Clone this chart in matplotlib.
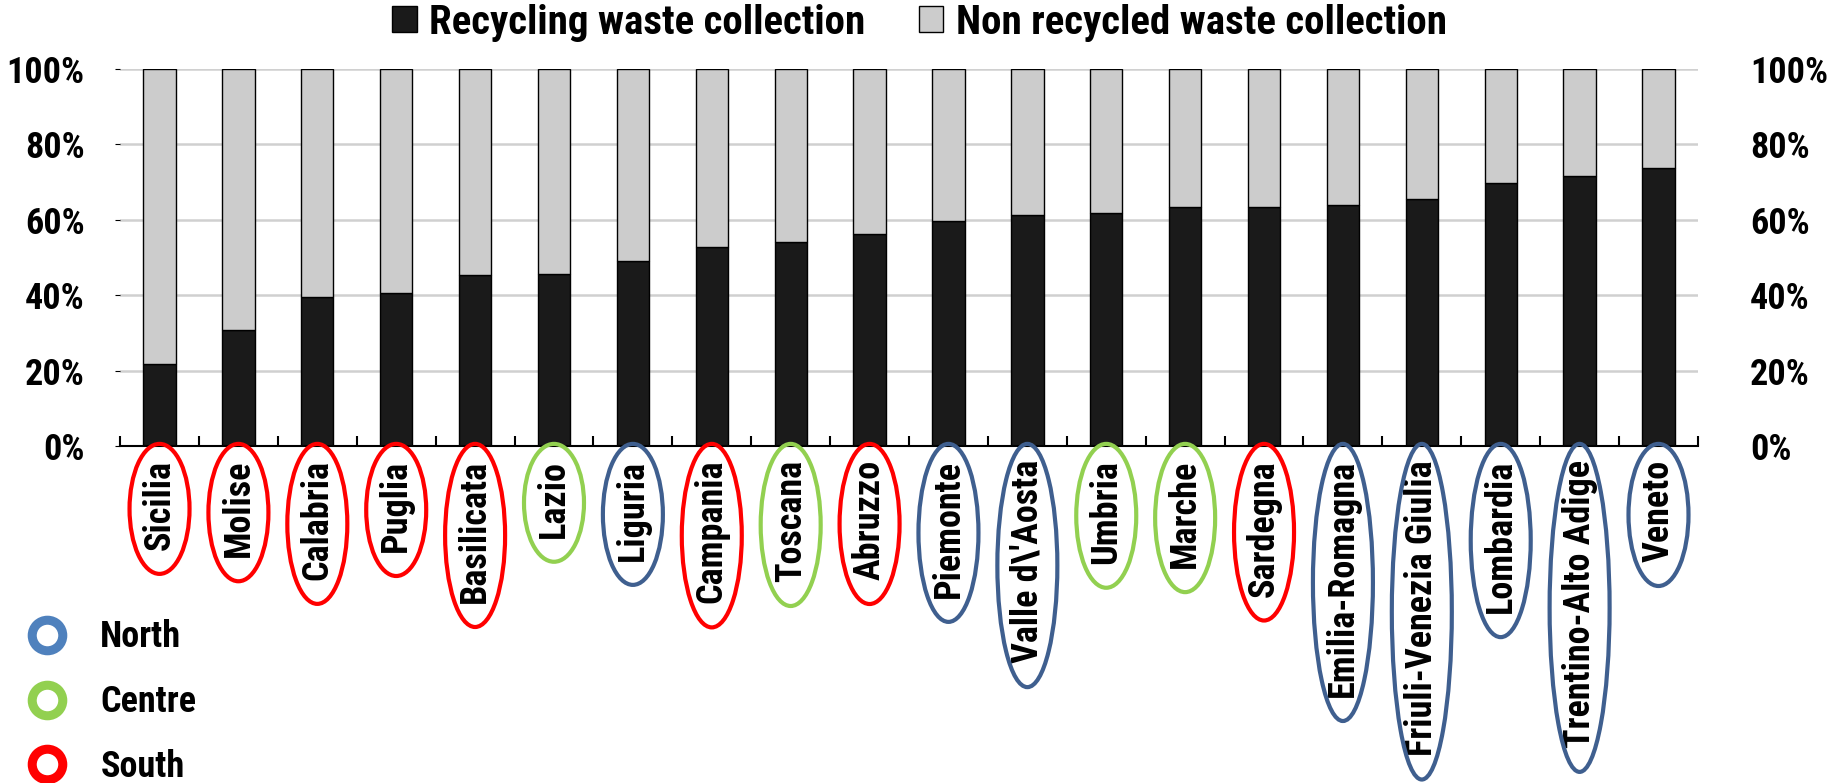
import matplotlib
matplotlib.use("Agg")
import matplotlib.pyplot as plt
from matplotlib.patches import Ellipse, Patch
from matplotlib.lines import Line2D

# =========================
# DATA
# =========================

regions = ["Sicilia", "Molise", "Calabria", "Puglia", "Basilicata", "Lazio",
           "Liguria", "Campania", "Toscana", "Abruzzo", "Piemonte",
           "Valle d\\'Aosta", "Umbria", "Marche", "Sardegna", "Emilia-Romagna",
           "Friuli-Venezia Giulia", "Lombardia", "Trentino-Alto Adige", "Veneto"]

area = ["South", "South", "South", "South", "South", "Centre",
        "North", "South", "Centre", "South", "North",
        "North", "Centre", "Centre", "South", "North",
        "North", "North", "North", "North"]

recycling = [21.7, 30.7, 39.6, 40.5, 45.3, 45.6, 49.1, 52.8, 54.2, 56.2,
             59.6, 61.3, 61.8, 63.3, 63.5, 63.9, 65.6, 69.8, 71.7, 73.8]
non_recycled = [78.3, 69.3, 60.4, 59.5, 54.7, 54.4, 50.9, 47.2, 45.8, 43.8,
                40.4, 38.7, 38.2, 36.7, 36.5, 36.1, 34.4, 30.2, 28.3, 26.2]

y_ticks = [0, 20, 40, 60, 80, 100]
y_labels = ["0%", "20%", "40%", "60%", "80%", "100%"]

area_order = ["North", "Centre", "South"]

# =========================
# STYLE
# =========================

FONT = ["Roboto Condensed", "PT Sans Narrow", "Liberation Sans", "DejaVu Sans"]
plt.rcParams["font.family"] = FONT
plt.rcParams["font.weight"] = "bold"

ELLIPSE_COLORS = {"North": "#3F5F8F", "Centre": "#92D050", "South": "#FF0000"}
MARKER_COLORS = {"North": "#4F81BD", "Centre": "#92D050", "South": "#FF0000"}

# =========================
# PLOT
# =========================

fig = plt.figure(figsize=(18.39, 7.83), dpi=100)
ax = fig.add_axes([0.0653, 0.4304, 0.858, 0.4815])

x = range(len(regions))
ax.bar(x, recycling, width=0.41, color="#1A1A1A", edgecolor="black",
       linewidth=1, zorder=3, label="Recycling waste collection")
ax.bar(x, non_recycled, width=0.41, bottom=recycling, color="#CCCCCC",
       edgecolor="black", linewidth=1, zorder=3,
       label="Non recycled waste collection")

ax.set_xlim(-0.5, len(regions) - 0.5)
ax.set_ylim(0, 100)

ax.set_yticks(y_ticks)
ax.set_yticklabels(y_labels)
ax.tick_params(axis="y", left=False, right=False, labelsize=26, pad=22)
ax.yaxis.grid(True, color="#D0D0D0", linewidth=1.8, zorder=0)
ax.set_axisbelow(True)

# right hand axis labels
ax2 = ax.twinx()
ax2.set_ylim(0, 100)
ax2.set_yticks(y_ticks)
ax2.set_yticklabels(y_labels)
ax2.tick_params(axis="y", right=False, labelsize=26, pad=34)
for s in ax2.spines.values():
    s.set_visible(False)

ax.set_xticks(list(x))
ax.set_xticklabels(regions, rotation=90, fontsize=26)
ax.tick_params(axis="x", which="major", length=0, pad=10)
ax.set_xticks([i - 0.5 for i in range(len(regions) + 1)], minor=True)
ax.tick_params(axis="x", which="minor", direction="in", length=7,
               width=1.5, color="black")

for s in ["left", "right", "top"]:
    ax.spines[s].set_visible(False)
ax.spines["bottom"].set_linewidth(1.5)
ax.spines["bottom"].set_zorder(4)

# top legend
handles = [Patch(facecolor="#1A1A1A", edgecolor="black"),
           Patch(facecolor="#CCCCCC", edgecolor="black")]
fig.legend(handles, ["Recycling waste collection",
                     "Non recycled waste collection"],
           loc="center", bbox_to_anchor=(0.5, 0.971), ncol=2, frameon=False,
           fontsize=29.5, handlelength=0.6, handleheight=0.6,
           handletextpad=0.3, columnspacing=1.3, borderpad=0)

# ellipses round the region labels
fig.canvas.draw()
renderer = fig.canvas.get_renderer()
inv = fig.transFigure.inverted()
for lbl, a in zip(ax.get_xticklabels(), area):
    bb = lbl.get_window_extent(renderer)
    top = bb.y1 + 16
    bottom = bb.y0 - 24
    left = bb.x0 - 12
    right = bb.x1 + 12
    (x0, y0), (x1, y1) = inv.transform([(left, bottom), (right, top)])
    e = Ellipse(((x0 + x1) / 2, (y0 + y1) / 2), x1 - x0, y1 - y0,
                transform=fig.transFigure, fill=False,
                edgecolor=ELLIPSE_COLORS[a], linewidth=3)
    fig.add_artist(e)

# area legend
area_handles = [Line2D([], [], ls="", marker="o", markersize=22,
                       markeredgewidth=6.5, markerfacecolor="white",
                       markeredgecolor=MARKER_COLORS[a]) for a in area_order]
fig.legend(area_handles, area_order, loc="upper left",
           bbox_to_anchor=(0.0147, 0.209), frameon=False, fontsize=26,
           handlelength=1.1, handletextpad=0.93, labelspacing=0.8,
           borderpad=0, borderaxespad=0)

fig.savefig("out.png", dpi=100)
